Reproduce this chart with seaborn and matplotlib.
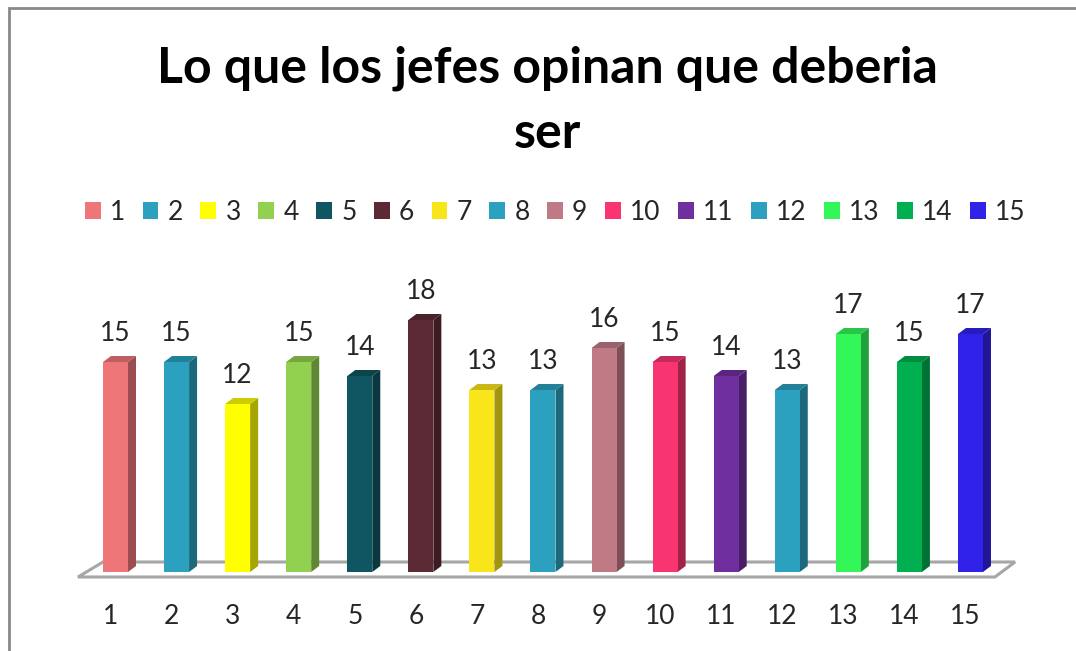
import matplotlib
matplotlib.use("Agg")
import matplotlib.pyplot as plt
import matplotlib.colors as mcolors
from matplotlib.patches import Polygon, Rectangle
import numpy as np
import pandas as pd
import seaborn as sns

# data
categories = [str(i) for i in range(1, 16)]
values = [15, 15, 12, 15, 14, 18, 13, 13, 16, 15, 14, 13, 17, 15, 17]
colors = ["#EE7679", "#2BA1BF", "#FFFF00", "#92D050", "#0F5562",
          "#5C2A35", "#F9E61A", "#2BA1BF", "#C07A86", "#F83570",
          "#6F2F9F", "#2BA1BF", "#33F759", "#00B050", "#3122EA"]
title = "Lo que los jefes opinan que deberia\nser"

W, H = 1076, 651
PX_UNIT = 14.0        # pixels per value unit
SPACING = 61.07       # pixels per category
DX, DY = 8 / SPACING, 6 / PX_UNIT   # 3d depth offset in data units

sns.set_theme(style="white")
plt.rcParams["font.family"] = ["Lato", "DejaVu Sans"]

df = pd.DataFrame({"cat": categories, "val": values})

fig = plt.figure(figsize=(W / 100, H / 100), dpi=100)
base_px = H - 572
top_px = 250
ax = fig.add_axes([0, base_px / H, 1, (H - base_px - top_px) / H])

sns.barplot(data=df, x="cat", y="val", hue="cat", palette=colors,
            width=25 / SPACING, dodge=False, legend=False, ax=ax,
            saturation=1, linewidth=0, zorder=3)

x0 = 115.5 / SPACING
ax.set_xlim(-x0, (W - 115.5) / SPACING)
ax.set_ylim(0, (H - base_px - top_px) / PX_UNIT)

# floor
floor = Polygon([(-0.614, -5 / PX_UNIT), (-0.205, 10 / PX_UNIT),
                 (14.73, 10 / PX_UNIT), (14.40, -5 / PX_UNIT)],
                closed=True, facecolor="white", edgecolor="#A6A6A6",
                lw=2.2, clip_on=False, zorder=1)
ax.add_patch(floor)

# fake 3d faces + labels
for bar, col, v in zip(ax.patches[:len(values)], colors, values):
    x, w, h = bar.get_x(), bar.get_width(), bar.get_height()
    rgb = np.array(mcolors.to_rgb(col))
    side = Polygon([(x + w, 0), (x + w + DX, DY), (x + w + DX, h + DY), (x + w, h)],
                   closed=True, facecolor=rgb * 0.65, edgecolor="none",
                   zorder=2.9, clip_on=False)
    top = Polygon([(x, h), (x + DX, h + DY), (x + w + DX, h + DY), (x + w, h)],
                  closed=True, facecolor=rgb * 0.8, edgecolor="none",
                  zorder=2.9, clip_on=False)
    ax.add_patch(side)
    ax.add_patch(top)
    ax.annotate(str(v), (x + w / 2, h + DY), xytext=(0, 7),
                textcoords="offset points", ha="center", va="bottom",
                fontsize=19, color="#262626", annotation_clip=False)

ax.set_xticks(np.arange(len(categories)) - 0.08)
ax.set_xticklabels(categories, fontsize=19, color="#262626")
ax.tick_params(axis="x", length=0, pad=23)
ax.set_yticks([])
ax.set_xlabel("")
ax.set_ylabel("")
for s in ax.spines.values():
    s.set_visible(False)
ax.patch.set_alpha(0)

# legend
handles = [Rectangle((0, 0), 1, 1, facecolor=c, edgecolor="none") for c in colors]
fig.legend(handles, categories, loc="center", bbox_to_anchor=(0.516, 1 - 212 / H),
           ncol=len(categories), frameon=False, fontsize=19,
           handlelength=0.6, handleheight=0.6, handletextpad=0.35,
           columnspacing=0.66, labelcolor="#262626")

fig.text(0.509, 1 - 101 / H, title, ha="center", va="center",
         fontsize=36, fontweight="bold", color="black", linespacing=1.55)

# chart border (top and left visible)
fig.add_artist(Rectangle((9 / W, -0.1), 1.1, 1 - 8 / H + 0.1, transform=fig.transFigure,
                         fill=False, edgecolor="#898989", lw=2))

fig.savefig("out.png", dpi=100)
